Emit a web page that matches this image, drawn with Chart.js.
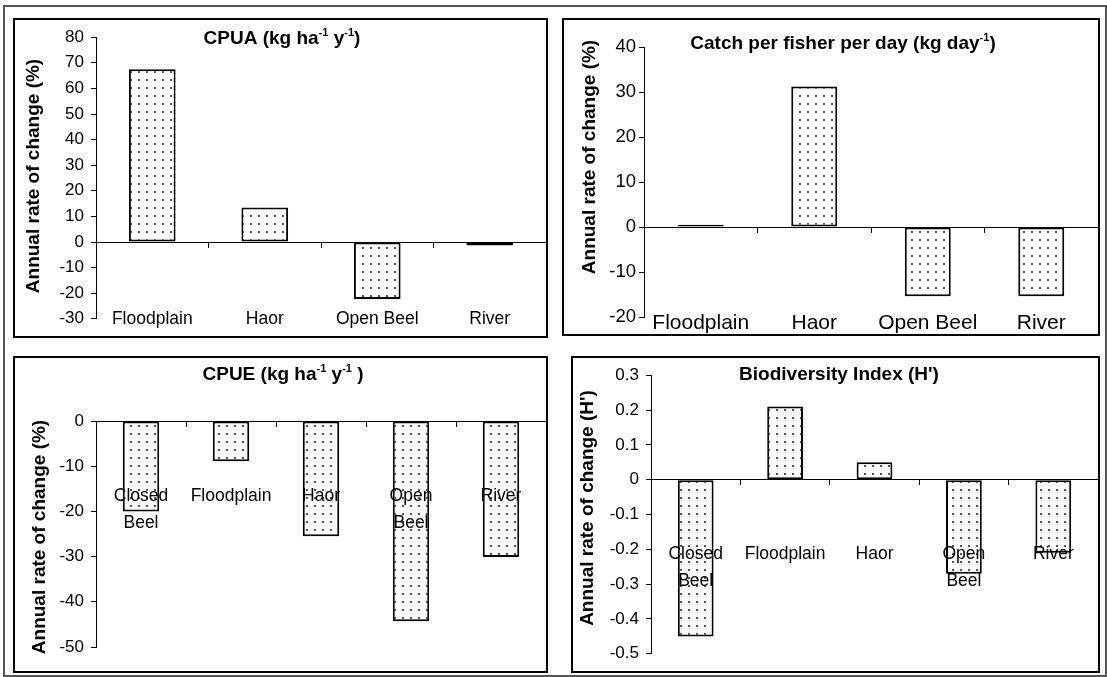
<!DOCTYPE html>
<html>
<head>
<meta charset="utf-8">
<script src="https://cdn.jsdelivr.net/npm/chart.js@4.4.1/dist/chart.umd.min.js"></script>
<style>
    html, body { margin: 0; padding: 0; background: #fff; }
    body { width: 1107px; height: 677px; position: relative; overflow: hidden; }
    .frame { position: absolute; left: 3px; top: 5px; width: 1100px; height: 668px; border: 2px solid #555; }
    .panel { position: absolute; border: 2px solid #000; background: #fff; }
    .panel canvas { display: block; }
</style>
</head>
<body>
<div class="frame"></div>
<div class="panel" style="left:13px;top:18px;"><canvas id="cpua" width="531" height="316"></canvas></div>
<div class="panel" style="left:562px;top:18px;"><canvas id="catch" width="534" height="314"></canvas></div>
<div class="panel" style="left:13px;top:356px;"><canvas id="cpue" width="531" height="313"></canvas></div>
<div class="panel" style="left:571px;top:356px;"><canvas id="hindex" width="525" height="313"></canvas></div>

<script>
// --- datos ---
const catsTop = ['Floodplain', 'Haor', 'Open Beel', 'River'];
const catsBottom = [['Closed', 'Beel'], 'Floodplain', 'Haor', ['Open', 'Beel'], 'River'];

const cpuaValues = [67.5, 13.5, -22.3, -1.4];
const catchValues = [0.5, 31.2, -15.4, -15.4];
const cpueValues = [-20, -8.9, -25.5, -44.3, -30.1];
const hValues = [-0.45, 0.21, 0.05, -0.27, -0.21];

// titulos: [texto, esSuperindice]
const titleCpua = [['CPUA (kg ha', 0], ['-1', 1], [' y', 0], ['-1', 1], [')', 0]];
const titleCatch = [['Catch per fisher per day (kg day', 0], ['-1', 1], [')', 0]];
const titleCpue = [['CPUE (kg ha', 0], ['-1', 1], [' y', 0], ['-1', 1], [' )', 0]];
const titleH = [['Biodiversity Index (H\')', 0]];

const yTitlePct = 'Annual rate of change (%)';
const yTitleH = 'Annual rate of change (H\')';

const FONT = "'Liberation Sans', Arial, sans-serif";

// trama de puntos tipo Excel
function dotPattern() {
    const c = document.createElement('canvas');
    c.width = 8; c.height = 8;
    const g = c.getContext('2d');
    g.fillStyle = '#fff';
    g.fillRect(0, 0, 8, 8);
    g.fillStyle = '#555';
    g.fillRect(3, 3, 2, 2);
    return g.createPattern(c, 'repeat');
}

// titulo y titulo del eje Y dibujados a mano (superindices)
const panelText = {
    id: 'panelText',
    afterDraw(chart, args, o) {
        const ctx = chart.ctx;
        ctx.save();
        ctx.fillStyle = '#000';
        ctx.textBaseline = 'alphabetic';
        const big = `bold ${o.titleSize}px ${FONT}`;
        const small = `bold ${Math.round(o.titleSize * 0.6)}px ${FONT}`;
        let total = 0;
        o.title.forEach(([t, sup]) => { ctx.font = sup ? small : big; total += ctx.measureText(t).width; });
        let x = o.titleX - total / 2;
        const base = o.titleY + o.titleSize * 0.36;
        o.title.forEach(([t, sup]) => {
            ctx.font = sup ? small : big;
            ctx.textAlign = 'left';
            ctx.fillText(t, x, sup ? base - o.titleSize * 0.42 : base);
            x += ctx.measureText(t).width;
        });
        ctx.translate(o.yTitleX, o.yTitleY);
        ctx.rotate(-Math.PI / 2);
        ctx.font = `bold ${o.yTitleSize}px ${FONT}`;
        ctx.textAlign = 'center';
        ctx.textBaseline = 'middle';
        ctx.fillText(o.yTitle, 0, 0);
        ctx.restore();
    }
};

function makeChart(id, p) {
    const ctx = document.getElementById(id).getContext('2d');
    return new Chart(ctx, {
        type: 'bar',
        data: {
            labels: p.labels,
            datasets: [{
                data: p.values,
                backgroundColor: dotPattern(),
                borderColor: '#000',
                borderWidth: 2,
                borderSkipped: false,
                barPercentage: p.barPct,
                categoryPercentage: 1
            }]
        },
        plugins: [panelText],
        options: {
            responsive: false,
            animation: false,
            devicePixelRatio: 1,
            layout: { padding: { top: p.padTop, bottom: p.padBottom, left: 0, right: 0 } },
            plugins: {
                legend: { display: false },
                tooltip: { enabled: false },
                panelText: {
                    title: p.title, titleX: p.titleX, titleY: p.titleY, titleSize: 19,
                    yTitle: p.yTitle, yTitleX: p.yTitleX, yTitleY: p.yTitleY, yTitleSize: 19
                }
            },
            scales: {
                x: {
                    position: { y: 0 },
                    offset: true,
                    // las etiquetas van encima de las barras, como en Excel
                    afterFit: (s) => { s.paddingLeft = 0; s.paddingRight = 0; },
                    border: { display: true, color: '#000', width: 1, z: 1 },
                    grid: { display: true, drawOnChartArea: false, drawTicks: true, tickLength: 5, color: '#000', offset: true, z: 1 },
                    ticks: {
                        z: 1,
                        color: '#000',
                        font: { family: FONT, size: p.catSize, lineHeight: p.catLine },
                        padding: p.catPad,
                        autoSkip: false, maxRotation: 0, minRotation: 0
                    }
                },
                y: {
                    position: 'left',
                    min: p.min, max: p.max,
                    afterFit: (s) => { s.width = p.axisW; },
                    border: { display: true, color: '#000', width: 1 },
                    grid: { display: true, drawOnChartArea: false, drawTicks: true, tickLength: 5, color: '#000' },
                    ticks: {
                        stepSize: p.step,
                        color: '#000',
                        padding: p.tickPad,
                        font: { family: FONT, size: p.tickSize }
                    }
                }
            }
        }
    });
}

makeChart('cpua', {
    labels: catsTop, values: cpuaValues, min: -30, max: 80, step: 10,
    axisW: 81, padTop: 17, padBottom: 16, barPct: 0.415,
    tickSize: 17, tickPad: 7, catSize: 17.5, catLine: 1.2, catPad: 62,
    title: titleCpua, titleX: 267, titleY: 17,
    yTitle: yTitlePct, yTitleX: 19, yTitleY: 156
});

makeChart('catch', {
    labels: catsTop, values: catchValues, min: -20, max: 40, step: 10,
    axisW: 80, padTop: 27, padBottom: 17, barPct: 0.405,
    tickSize: 18.5, tickPad: 3, catSize: 21, catLine: 1.2, catPad: 79,
    title: titleCatch, titleX: 279, titleY: 22,
    yTitle: yTitlePct, yTitleX: 26, yTitleY: 137
});

makeChart('cpue', {
    labels: catsBottom, values: cpueValues, min: -50, max: 0, step: 10,
    axisW: 81, padTop: 63, padBottom: 24, barPct: 0.405,
    tickSize: 17, tickPad: 7, catSize: 17.5, catLine: 1.52, catPad: 57,
    title: titleCpue, titleX: 268, titleY: 15,
    yTitle: yTitlePct, yTitleX: 25, yTitleY: 179
});

makeChart('hindex', {
    labels: catsBottom, values: hValues, min: -0.5, max: 0.3, step: 0.1,
    axisW: 78, padTop: 16, padBottom: 14, barPct: 0.4,
    tickSize: 17, tickPad: 7, catSize: 17.5, catLine: 1.55, catPad: 56,
    title: titleH, titleX: 266, titleY: 15,
    yTitle: yTitleH, yTitleX: 15, yTitleY: 150
});
</script>
</body>
</html>
